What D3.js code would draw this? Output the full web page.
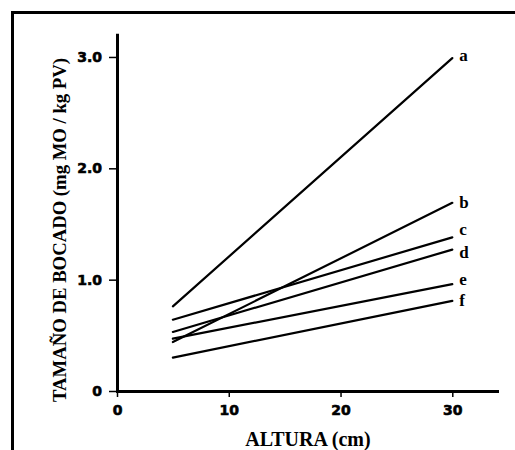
<!DOCTYPE html>
<html>
<head>
<meta charset="utf-8">
<script src="https://cdn.jsdelivr.net/npm/d3@7"></script>
<style>
  body { margin: 0; background: #fff; }
  svg { display: block; }
</style>
</head>
<body>
<div id="chart"><svg width="515" height="450"></svg></div>
<script>
// Data: bite size vs sward height, one line per group
let seriesNames = ["a", "b", "c", "d", "e", "f"];
let heights = [5, 30];
let startValues = [0.76, 0.44, 0.64, 0.53, 0.47, 0.30];
let endValues = [2.99, 1.69, 1.38, 1.27, 0.96, 0.81];
let xTicks = [0, 10, 20, 30];
let yTicks = [0, 1, 2, 3];

// small vertical nudges so end labels don't collide
let labelNudge = { a: -3, b: 0, c: -8, d: 3, e: -5, f: 0 };

let svg = d3.select("div#chart svg");

// Scales
let x = d3.scaleLinear().domain([0, 34]).range([117, 497]);
let y = d3.scaleLinear().domain([0, 3.2]).range([391, 34.7]);

// Frame (top and left edges only, like the scan)
svg.append("path")
  .attr("d", "M12.5,450 V12.5 H515")
  .attr("fill", "none")
  .attr("stroke", "black")
  .attr("stroke-width", 3);

// Y axis
let yAxis = svg.append("g")
  .attr("class", "axis axis_y")
  .attr("transform", "translate(" + x(0) + ",0)")
  .call(d3.axisLeft(y)
    .tickValues(yTicks)
    .tickSize(8)
    .tickSizeOuter(0)
    .tickPadding(7)
    .tickFormat(d => d === 0 ? "0" : d3.format(".1f")(d)));

// X axis
let xAxis = svg.append("g")
  .attr("class", "axis axis_x")
  .attr("transform", "translate(0," + y(0) + ")")
  .call(d3.axisBottom(x)
    .tickValues(xTicks)
    .tickSize(6)
    .tickSizeOuter(0)
    .tickPadding(8));

[yAxis, xAxis].forEach(a => {
  a.select(".domain").attr("stroke-width", 3).attr("stroke-linecap", "square");
  a.selectAll(".tick line").attr("stroke-width", 1.5);
  // scanned labels are very heavy, so thicken the glyphs a bit
  a.selectAll(".tick text")
    .style("font-family", "'DejaVu Sans', sans-serif")
    .style("font-weight", "bold")
    .style("font-size", "14px")
    .attr("fill", "black")
    .attr("stroke", "black")
    .attr("stroke-width", 0.6);
});

// Lines
let rows = seriesNames.map((name, i) => ({
  name: name,
  points: [
    { h: heights[0], v: startValues[i] },
    { h: heights[1], v: endValues[i] }
  ]
}));

let line = d3.line()
  .x(d => x(d.h))
  .y(d => y(d.v));

svg.append("g")
  .attr("class", "lines")
  .selectAll("path")
  .data(rows)
  .enter()
  .append("path")
    .attr("d", d => line(d.points))
    .attr("fill", "none")
    .attr("stroke", "black")
    .attr("stroke-width", 2.2)
    .attr("stroke-linecap", "round");

// End labels
svg.append("g")
  .attr("class", "labels")
  .selectAll("text")
  .data(rows)
  .enter()
  .append("text")
    .attr("x", d => x(d.points[1].h) + 7)
    .attr("y", d => y(d.points[1].v) + labelNudge[d.name])
    .attr("dy", "0.32em")
    .text(d => d.name)
    .style("font-family", "'Liberation Serif', 'Times New Roman', serif")
    .style("font-weight", "bold")
    .style("font-size", "17px");

// Axis titles
svg.append("text")
  .attr("x", 308)
  .attr("y", 446)
  .text("ALTURA (cm)")
  .style("font-family", "'Liberation Serif', 'Times New Roman', serif")
  .style("font-weight", "bold")
  .style("font-size", "20px")
  .style("text-anchor", "middle");

svg.append("text")
  .attr("transform", "translate(66,230) rotate(-90)")
  .attr("textLength", 344)
  .attr("lengthAdjust", "spacingAndGlyphs")
  .text("TAMAÑO DE BOCADO (mg MO / kg PV)")
  .style("font-family", "'Liberation Serif', 'Times New Roman', serif")
  .style("font-weight", "bold")
  .style("font-size", "18px")
  .style("text-anchor", "middle");
</script>
</body>
</html>
